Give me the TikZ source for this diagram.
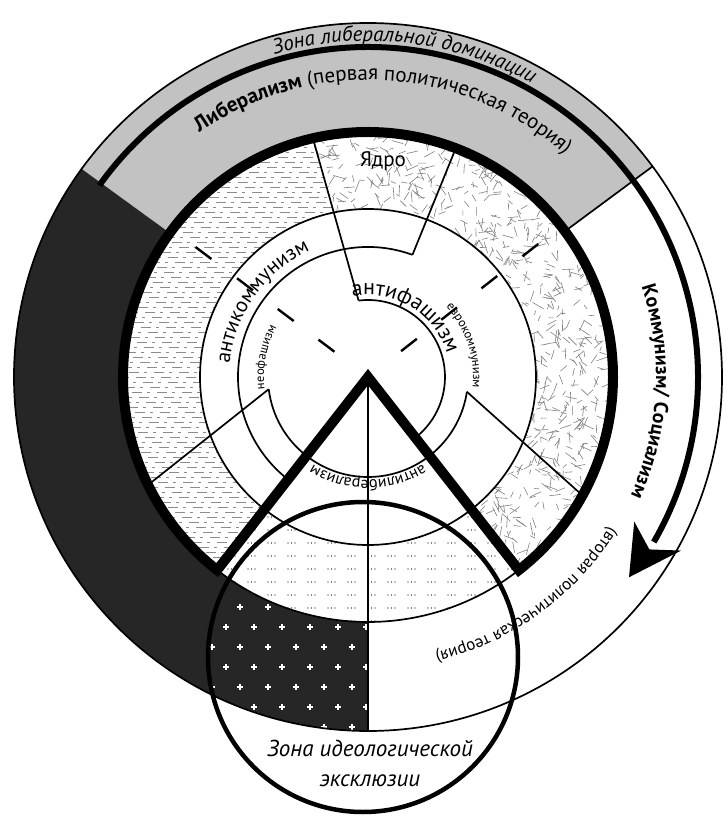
\documentclass[tikz,border=0pt]{standalone}
\usepackage{fontspec}
\setmainfont{PT Sans}
\usetikzlibrary{decorations.text}

\begin{document}
\begin{tikzpicture}[x=1pt, y=1pt,
  ringln/.style={line width=1.7},
  heavyln/.style={line width=10, line join=miter},
  hatchln/.style={black!45, line width=0.7, dash pattern=on 10pt off 5pt on 3pt off 7pt},
  crackln/.style={black!50, line width=0.6},
  dashmark/.style={line width=2.4},
  arctxt/.style={decorate, decoration={text along path, text align=center, text={#1}}}]
\useasboundingbox (-368,-440) rectangle (358,377);

% outer bands
\fill[black!24] (36.5:245) arc[start angle=36.5, end angle=144, radius=245] -- (144:354) arc[start angle=144, end angle=36.5, radius=354] -- cycle;
\fill[black!85] (144:245) arc[start angle=144, end angle=270, radius=245] -- (270:354) arc[start angle=270, end angle=144, radius=354] -- cycle;

% hatched sector
\begin{scope}
  \clip (85:168) arc[start angle=85, end angle=232, radius=168] -- (232:245) arc[start angle=232, end angle=85, radius=245] -- cycle;
  \clip (-68.8,287.4) -- (-9.4,76.4) -- (0,0) -- (232:330) -- (-360,-260) -- (-360,360) -- (-68.8,360) -- cycle;
  \foreach \y [count=\k] in {-250,-245,...,250} {
    \pgfmathsetmacro{\ph}{mod(\k*7,25)}
    \draw[hatchln, dash phase=\ph] (-250,\y) -- (10,\y);
  }
\end{scope}

% core and right sector
\begin{scope}
  \clip (-52:168) arc[start angle=-52, end angle=115, radius=168] -- (115:245) arc[start angle=115, end angle=-52, radius=245] -- cycle;
  \clip (-68.8,287.4) -- (-9.4,76.4) -- (0,0) -- (308:330) -- (360,-260) -- (360,360) -- (-68.8,360) -- cycle;
  \pgfmathsetseed{11}
  \foreach \i in {1,...,650} {
    \pgfmathsetmacro{\ra}{168+77*rnd}
    \pgfmathsetmacro{\ta}{-52+167*rnd}
    \pgfmathsetmacro{\da}{360*rnd}
    \pgfmathsetmacro{\la}{4+9*rnd}
    \draw[crackln] (\ta:\ra) -- ++(\da:\la);
  }
\end{scope}

% dotted wedge
\begin{scope}
  \clip (232:168) arc[start angle=232, end angle=308, radius=168] -- (308:245) arc[start angle=308, end angle=232, radius=245] -- cycle;
  \foreach \y in {-140,-153,...,-250}
    \foreach \x in {-200,-180,...,200}
      \foreach \d in {0,3.5,7}
        \fill ({\x+\d},\y) circle (0.7);
\end{scope}

% crosses in the dark part of the exclusion zone
\begin{scope}
  \clip (-5,-280) circle (155);
  \clip (180:245) arc[start angle=180, end angle=270, radius=245] -- (270:354) arc[start angle=270, end angle=180, radius=354] -- cycle;
  \foreach \y [count=\k] in {-230,-250,...,-370} {
    \foreach \x in {-170,-142,...,0} {
      \pgfmathsetmacro{\xs}{\x+14*mod(\k,2)}
      \draw[white, line width=1.1] (\xs-3,\y) -- ++(6,0) (\xs,\y-3) -- ++(0,6);
    }
  }
\end{scope}

% rings
\draw[ringln] (0,0) circle (354);
\draw[line width=6] (144.5:330) arc[start angle=144.5, end angle=-30, radius=330];
\fill (-28.5:303) -- (-37.5:329) -- (-29:358) -- (-31.5:330) -- cycle;
\draw[ringln] (36.5:245) -- (36.5:354);
\draw[ringln] (0,0) circle (168);
\draw[ringln] (70:130) arc[start angle=70, end angle=232, radius=130];
\draw[ringln] (187:100) arc[start angle=187, end angle=351.5, radius=100];
\draw[ringln] (97:77) arc[start angle=97, end angle=-52, radius=77];
\draw[ringln] (232:245) arc[start angle=232, end angle=308, radius=245];

% spokes
\draw[ringln] (103:245) -- (97:77);
\draw[ringln] (69:245) -- (70:130);
\draw[ringln] (187:100) -- (-220,-108);
\draw[ringln] (-8.5:100) -- (214,-118);
\draw[ringln] (0,0) -- (0,-354);
\foreach \a in {38,143}
  \foreach \r in {52,103,154,206}
    \draw[dashmark] ({\a}:{\r-10}) -- ({\a}:{\r+10});

% wedge and exclusion zone
\draw[heavyln] (0,0) -- (308:245) arc[start angle=308, end angle=592, radius=245] -- cycle;
\draw[line width=4.5] (-5,-280) circle (155);

% labels
\path[arctxt={|\itshape\fontsize{21}{24}\selectfont|Зона либеральной доминации}] (123.5:336) arc[start angle=123.5, end angle=43.5, radius=336];
\path[arctxt={|\fontsize{21}{24}\selectfont\bfseries|Либерализм|+\mdseries| (первая политическая теория)}] (140:297) arc[start angle=140, end angle=33, radius=297];
\path[arctxt={|\fontsize{21}{24}\selectfont|антикоммунизм}] (200:139) arc[start angle=200, end angle=89, radius=139];
\path[arctxt={|\fontsize{22}{24}\selectfont|антифашизм}] (120:82) arc[start angle=120, end angle=-3, radius=82];
\path[arctxt={|\fontsize{12.5}{14}\selectfont|еврокоммунизм}] (60:105) arc[start angle=60, end angle=-24, radius=105];
\path[arctxt={|\fontsize{12.5}{14}\selectfont|неофашизм}] (200:104) arc[start angle=200, end angle=138, radius=104];
\path[arctxt={|\fontsize{16}{18}\selectfont|антилиберализм}] (320:103) arc[start angle=320, end angle=220, radius=103];
\path[arctxt={|\fontsize{20}{22}\selectfont\bfseries|Коммунизм/ Социализм}] (40:288) arc[start angle=40, end angle=-46, radius=288];
\path[arctxt={|\fontsize{17}{20}\selectfont|(вторая политическая теория)}] (-10:284) arc[start angle=-10, end angle=-98, radius=284];
\node[font=\fontsize{21}{22}\selectfont] (core) at (15,216) {Ядро};
\node[font=\itshape\fontsize{23}{30}\selectfont, align=center] (exclzone) at (2,-386) {Зона идеологической\\эксклюзии};
\end{tikzpicture}
\end{document}
